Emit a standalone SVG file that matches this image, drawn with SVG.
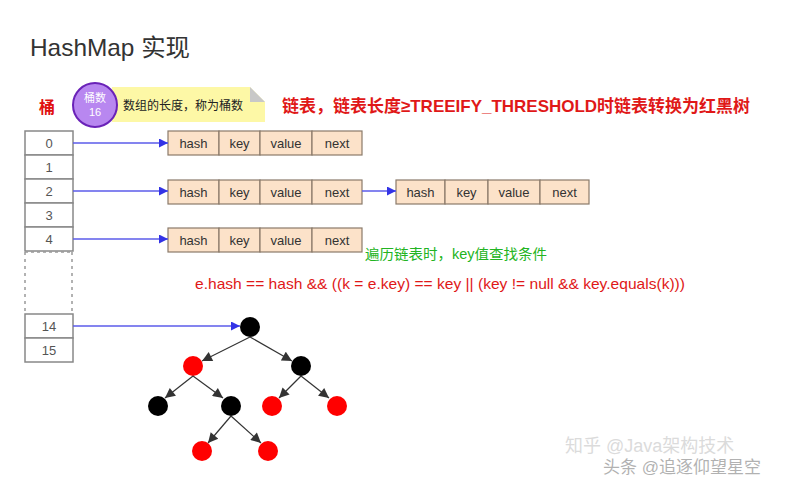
<svg xmlns="http://www.w3.org/2000/svg" width="807" height="486" viewBox="0 0 807 486">
<defs>
<style>
.t{font-family:"Liberation Sans","Noto Sans CJK SC",sans-serif}
.cell{fill:#fff;stroke:#888;stroke-width:1.5}
.idx{font-size:13px;fill:#555;text-anchor:middle}
.nd{fill:#fce2c9;stroke:#8a7a6a;stroke-width:1.2}
.nt{font-size:13px;fill:#333;text-anchor:middle}
.blue{stroke:#5b5bea;stroke-width:1.5;fill:none}
.edge{stroke:#333;stroke-width:1.2;fill:none}
.blk{fill:#000}
.red{fill:#f00}
</style>
<marker id="ab" viewBox="0 0 10 10" refX="10" refY="5" markerWidth="11" markerHeight="9" markerUnits="userSpaceOnUse" orient="auto"><path d="M0,0 L10,5 L0,10 Z" fill="#3333e6"/></marker>
<marker id="ak" viewBox="0 0 10 10" refX="10" refY="5" markerWidth="12" markerHeight="10" markerUnits="userSpaceOnUse" orient="auto"><path d="M0,0 L10,5 L0,10 Z" fill="#333"/></marker>
</defs>
<rect width="807" height="486" fill="#fff"/>
<text class="t" x="30" y="56" font-size="24" fill="#333" textLength="160" lengthAdjust="spacingAndGlyphs">HashMap 实现</text>

<g id="legend">
<text class="t" x="39" y="113" font-size="16" font-weight="bold" fill="#e01010">桶</text>
<path d="M112,87 H250 L265,102 V122 H112 Z" fill="#fdf8a6"/>
<path d="M250,87 L265,102 H250 Z" fill="#c8c8c8"/>
<text class="t" x="123" y="110" font-size="12" fill="#222">数组的长度，称为桶数</text>
<circle cx="95" cy="105" r="22" fill="#b887f0" stroke="#6a22b8" stroke-width="2"/>
<text class="t" x="95" y="102" font-size="11" fill="#fff" text-anchor="middle">桶数</text>
<text class="t" x="95" y="116" font-size="11" fill="#fff" text-anchor="middle">16</text>
</g>
<text class="t" x="282" y="112" font-size="17" font-weight="bold" fill="#e01818" textLength="468" lengthAdjust="spacingAndGlyphs">链表，链表长度≥TREEIFY_THRESHOLD时链表转换为红黑树</text>

<g id="array">
<rect class="cell" x="25" y="131" width="48" height="24"/>
<rect class="cell" x="25" y="155" width="48" height="24"/>
<rect class="cell" x="25" y="179" width="48" height="24"/>
<rect class="cell" x="25" y="203" width="48" height="24"/>
<rect class="cell" x="25" y="227" width="48" height="24"/>
<path d="M25,252 V313 M72,252 V313" stroke="#999" stroke-width="1.5" stroke-dasharray="3,4"/>
<path d="M25,252 H73" stroke="#999" stroke-width="1.5" stroke-dasharray="3,3"/>
<rect class="cell" x="25" y="314" width="48" height="24"/>
<rect class="cell" x="25" y="338" width="48" height="24"/>
<text class="t idx" x="49" y="148">0</text>
<text class="t idx" x="49" y="172">1</text>
<text class="t idx" x="49" y="196">2</text>
<text class="t idx" x="49" y="220">3</text>
<text class="t idx" x="49" y="244">4</text>
<text class="t idx" x="49" y="331">14</text>
<text class="t idx" x="49" y="355">15</text>
</g>

<g id="node0">
<rect class="nd" x="168" y="131" width="51" height="24"/><rect class="nd" x="219" y="131" width="41" height="24"/><rect class="nd" x="260" y="131" width="52" height="24"/><rect class="nd" x="312" y="131" width="50" height="24"/>
<text class="t nt" x="193.5" y="148">hash</text><text class="t nt" x="239.5" y="148">key</text><text class="t nt" x="286" y="148">value</text><text class="t nt" x="337" y="148">next</text>
</g>
<g id="node2a">
<rect class="nd" x="168" y="180" width="51" height="24"/><rect class="nd" x="219" y="180" width="41" height="24"/><rect class="nd" x="260" y="180" width="52" height="24"/><rect class="nd" x="312" y="180" width="50" height="24"/>
<text class="t nt" x="193.5" y="197">hash</text><text class="t nt" x="239.5" y="197">key</text><text class="t nt" x="286" y="197">value</text><text class="t nt" x="337" y="197">next</text>
</g>
<g id="node2b">
<rect class="nd" x="396" y="180" width="49" height="24"/><rect class="nd" x="445" y="180" width="43" height="24"/><rect class="nd" x="488" y="180" width="52" height="24"/><rect class="nd" x="540" y="180" width="49" height="24"/>
<text class="t nt" x="420.5" y="197">hash</text><text class="t nt" x="466.5" y="197">key</text><text class="t nt" x="514" y="197">value</text><text class="t nt" x="564.5" y="197">next</text>
</g>
<g id="node4">
<rect class="nd" x="168" y="228" width="51" height="24"/><rect class="nd" x="219" y="228" width="41" height="24"/><rect class="nd" x="260" y="228" width="52" height="24"/><rect class="nd" x="312" y="228" width="50" height="24"/>
<text class="t nt" x="193.5" y="245">hash</text><text class="t nt" x="239.5" y="245">key</text><text class="t nt" x="286" y="245">value</text><text class="t nt" x="337" y="245">next</text>
</g>

<text class="t" x="365" y="259" font-size="14" fill="#22b422" textLength="182" lengthAdjust="spacingAndGlyphs">遍历链表时，key值查找条件</text>
<text class="t" x="195" y="289" font-size="15" fill="#e01818" textLength="490" lengthAdjust="spacingAndGlyphs">e.hash == hash &amp;&amp; ((k = e.key) == key || (key != null &amp;&amp; key.equals(k)))</text>

<g id="tree-nodes">
<circle id="n1" class="blk" cx="250" cy="327" r="10"/>
<circle id="n2" class="red" cx="193" cy="366" r="10"/>
<circle id="n3" class="blk" cx="301" cy="366" r="10"/>
<circle id="n4" class="blk" cx="158" cy="406" r="10"/>
<circle id="n5" class="blk" cx="231" cy="406" r="10"/>
<circle id="n6" class="red" cx="272" cy="406" r="10"/>
<circle id="n7" class="red" cx="337" cy="406" r="10"/>
<circle id="n8" class="red" cx="202" cy="451" r="10"/>
<circle id="n9" class="red" cx="268" cy="451" r="10"/>
</g>

<g id="connectors">
<path class="blue" d="M73,143 H168" marker-end="url(#ab)"/>
<path class="blue" d="M73,191 H168" marker-end="url(#ab)"/>
<path class="blue" d="M362,191 H396" marker-end="url(#ab)"/>
<path class="blue" d="M73,239 H168" marker-end="url(#ab)"/>
<path class="blue" d="M73,326 H240" marker-end="url(#ab)"/>
<path class="edge" d="M250,337 L202,361" marker-end="url(#ak)"/>
<path class="edge" d="M250,337 L292,361" marker-end="url(#ak)"/>
<path class="edge" d="M193,376 L165,398" marker-end="url(#ak)"/>
<path class="edge" d="M193,376 L223,398" marker-end="url(#ak)"/>
<path class="edge" d="M301,376 L279,398" marker-end="url(#ak)"/>
<path class="edge" d="M301,376 L329,398" marker-end="url(#ak)"/>
<path class="edge" d="M231,416 L208,443" marker-end="url(#ak)"/>
<path class="edge" d="M231,416 L261,443" marker-end="url(#ak)"/>
</g>

<g id="watermark" opacity="0.35">
<text class="t" x="565" y="452" font-size="18" fill="#999">知乎 @Java架构技术</text>
<text class="t" x="603" y="473" font-size="17" fill="#222">头条 @追逐仰望星空</text>
</g>
</svg>
